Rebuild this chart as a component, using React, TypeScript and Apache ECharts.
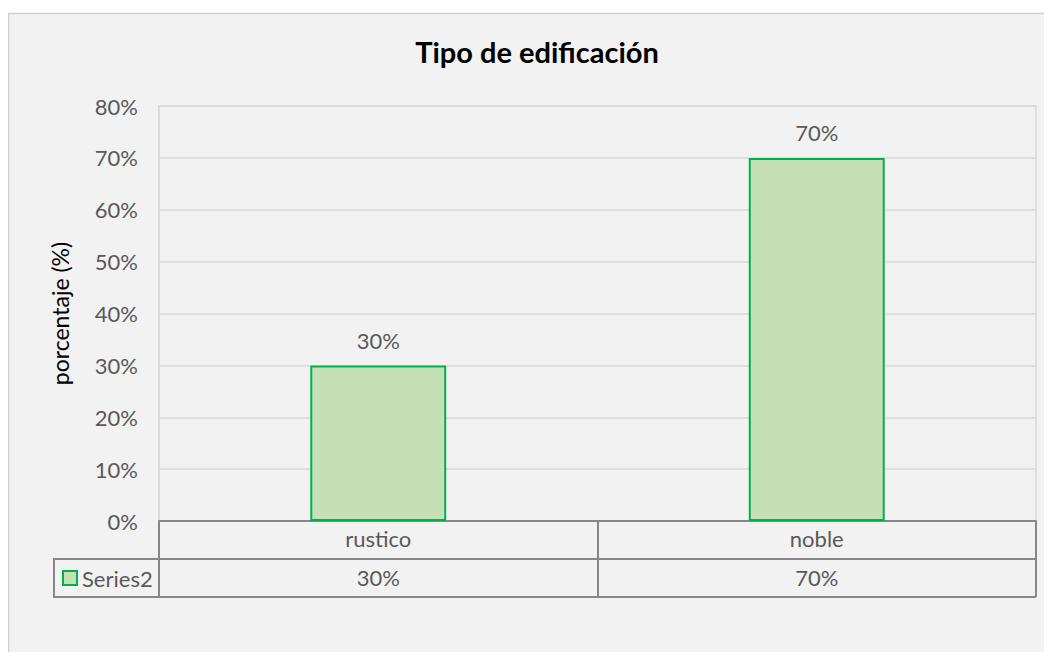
import React, { useEffect, useRef } from "react";
import * as echarts from "echarts";

const categories = ["rustico", "noble"];
const seriesName = "Series2";
const values = [30, 70];
const yTicks = { min: 0, max: 80, interval: 10 };
const title = "Tipo de edificación";
const yName = "porcentaje (%)";

const FONT = "Lato";
const TXT = "#595959";
const LINE = "#878787";
const FS = 22;

export default function App() {
  const ref = useRef<HTMLDivElement>(null);
  useEffect(() => {
    if (!ref.current) return;
    const chart = echarts.init(ref.current, undefined, { renderer: "svg" });
    chart.setOption({
      animation: false,
      textStyle: { fontFamily: FONT },
      title: {
        text: title,
        left: 529,
        top: 29,
        padding: 0,
        textAlign: "center",
        textStyle: { fontFamily: FONT, fontSize: 29, fontWeight: "bold", color: "#000" },
      },
      legend: {
        data: [seriesName],
        left: 54,
        top: 559,
        padding: 0,
        icon: "rect",
        itemWidth: 14,
        itemHeight: 14,
        itemGap: 5,
        textStyle: { fontFamily: FONT, fontSize: FS, color: TXT, padding: [0, 0, 0, 0] },
      },
      grid: {
        left: 151,
        right: 8,
        top: 98,
        bottom: 131,
        show: true,
        borderColor: "#d9d9d9",
        borderWidth: 1.5,
        backgroundColor: "transparent",
      },
      xAxis: [
        {
          type: "category",
          data: categories,
          position: "bottom",
          axisLine: { show: true, lineStyle: { color: LINE, width: 2 } },
          axisTick: { show: true, length: 76, inside: false, lineStyle: { color: LINE, width: 2 } },
          axisLabel: { fontFamily: FONT, fontSize: FS, color: TXT, margin: 6 },
        },
        {
          type: "category",
          data: values.map((v) => v + "%"),
          position: "bottom",
          offset: 38,
          axisLine: { show: true, lineStyle: { color: LINE, width: 2 } },
          axisTick: { show: false },
          axisLabel: { fontFamily: FONT, fontSize: FS, color: TXT, margin: 7 },
        },
      ],
      yAxis: {
        type: "value",
        min: yTicks.min,
        max: yTicks.max,
        interval: yTicks.interval,
        name: yName,
        nameLocation: "middle",
        nameRotate: 90,
        nameGap: 88,
        nameTextStyle: { fontFamily: FONT, fontSize: 23, color: "#000" },
        axisLine: { show: true, lineStyle: { color: "#d9d9d9", width: 1.5 } },
        axisTick: { show: false },
        axisLabel: { fontFamily: FONT, fontSize: FS, color: TXT, margin: 21, formatter: "{value}%" },
        splitLine: { show: true, lineStyle: { color: "#d9d9d9", width: 1.5 } },
      },
      series: [
        {
          name: seriesName,
          type: "bar",
          data: values,
          barWidth: "31%",
          itemStyle: { color: "#c5e0b4", borderColor: "#00b050", borderWidth: 2 },
          label: {
            show: true,
            position: "top",
            distance: 14,
            formatter: "{c}%",
            fontFamily: FONT,
            fontSize: FS,
            color: TXT,
          },
        },
      ],
      graphic: [
        {
          type: "rect",
          z: -100,
          silent: true,
          shape: { x: 0.5, y: 5.5, width: 1100, height: 700 },
          style: { fill: "#f2f2f2", stroke: "#d0d0d0", lineWidth: 1.5 },
        },
        {
          type: "line",
          z: 10,
          shape: { x1: 46, y1: 589, x2: 1028, y2: 589 },
          style: { stroke: LINE, lineWidth: 2 },
        },
        {
          type: "line",
          z: 10,
          shape: { x1: 46, y1: 551, x2: 151, y2: 551 },
          style: { stroke: LINE, lineWidth: 2 },
        },
        {
          type: "line",
          z: 10,
          shape: { x1: 46, y1: 550, x2: 46, y2: 590 },
          style: { stroke: LINE, lineWidth: 2 },
        },
      ],
    });
    return () => chart.dispose();
  }, []);
  return <div ref={ref} style={{ width: 1036, height: 644 }} />;
}
